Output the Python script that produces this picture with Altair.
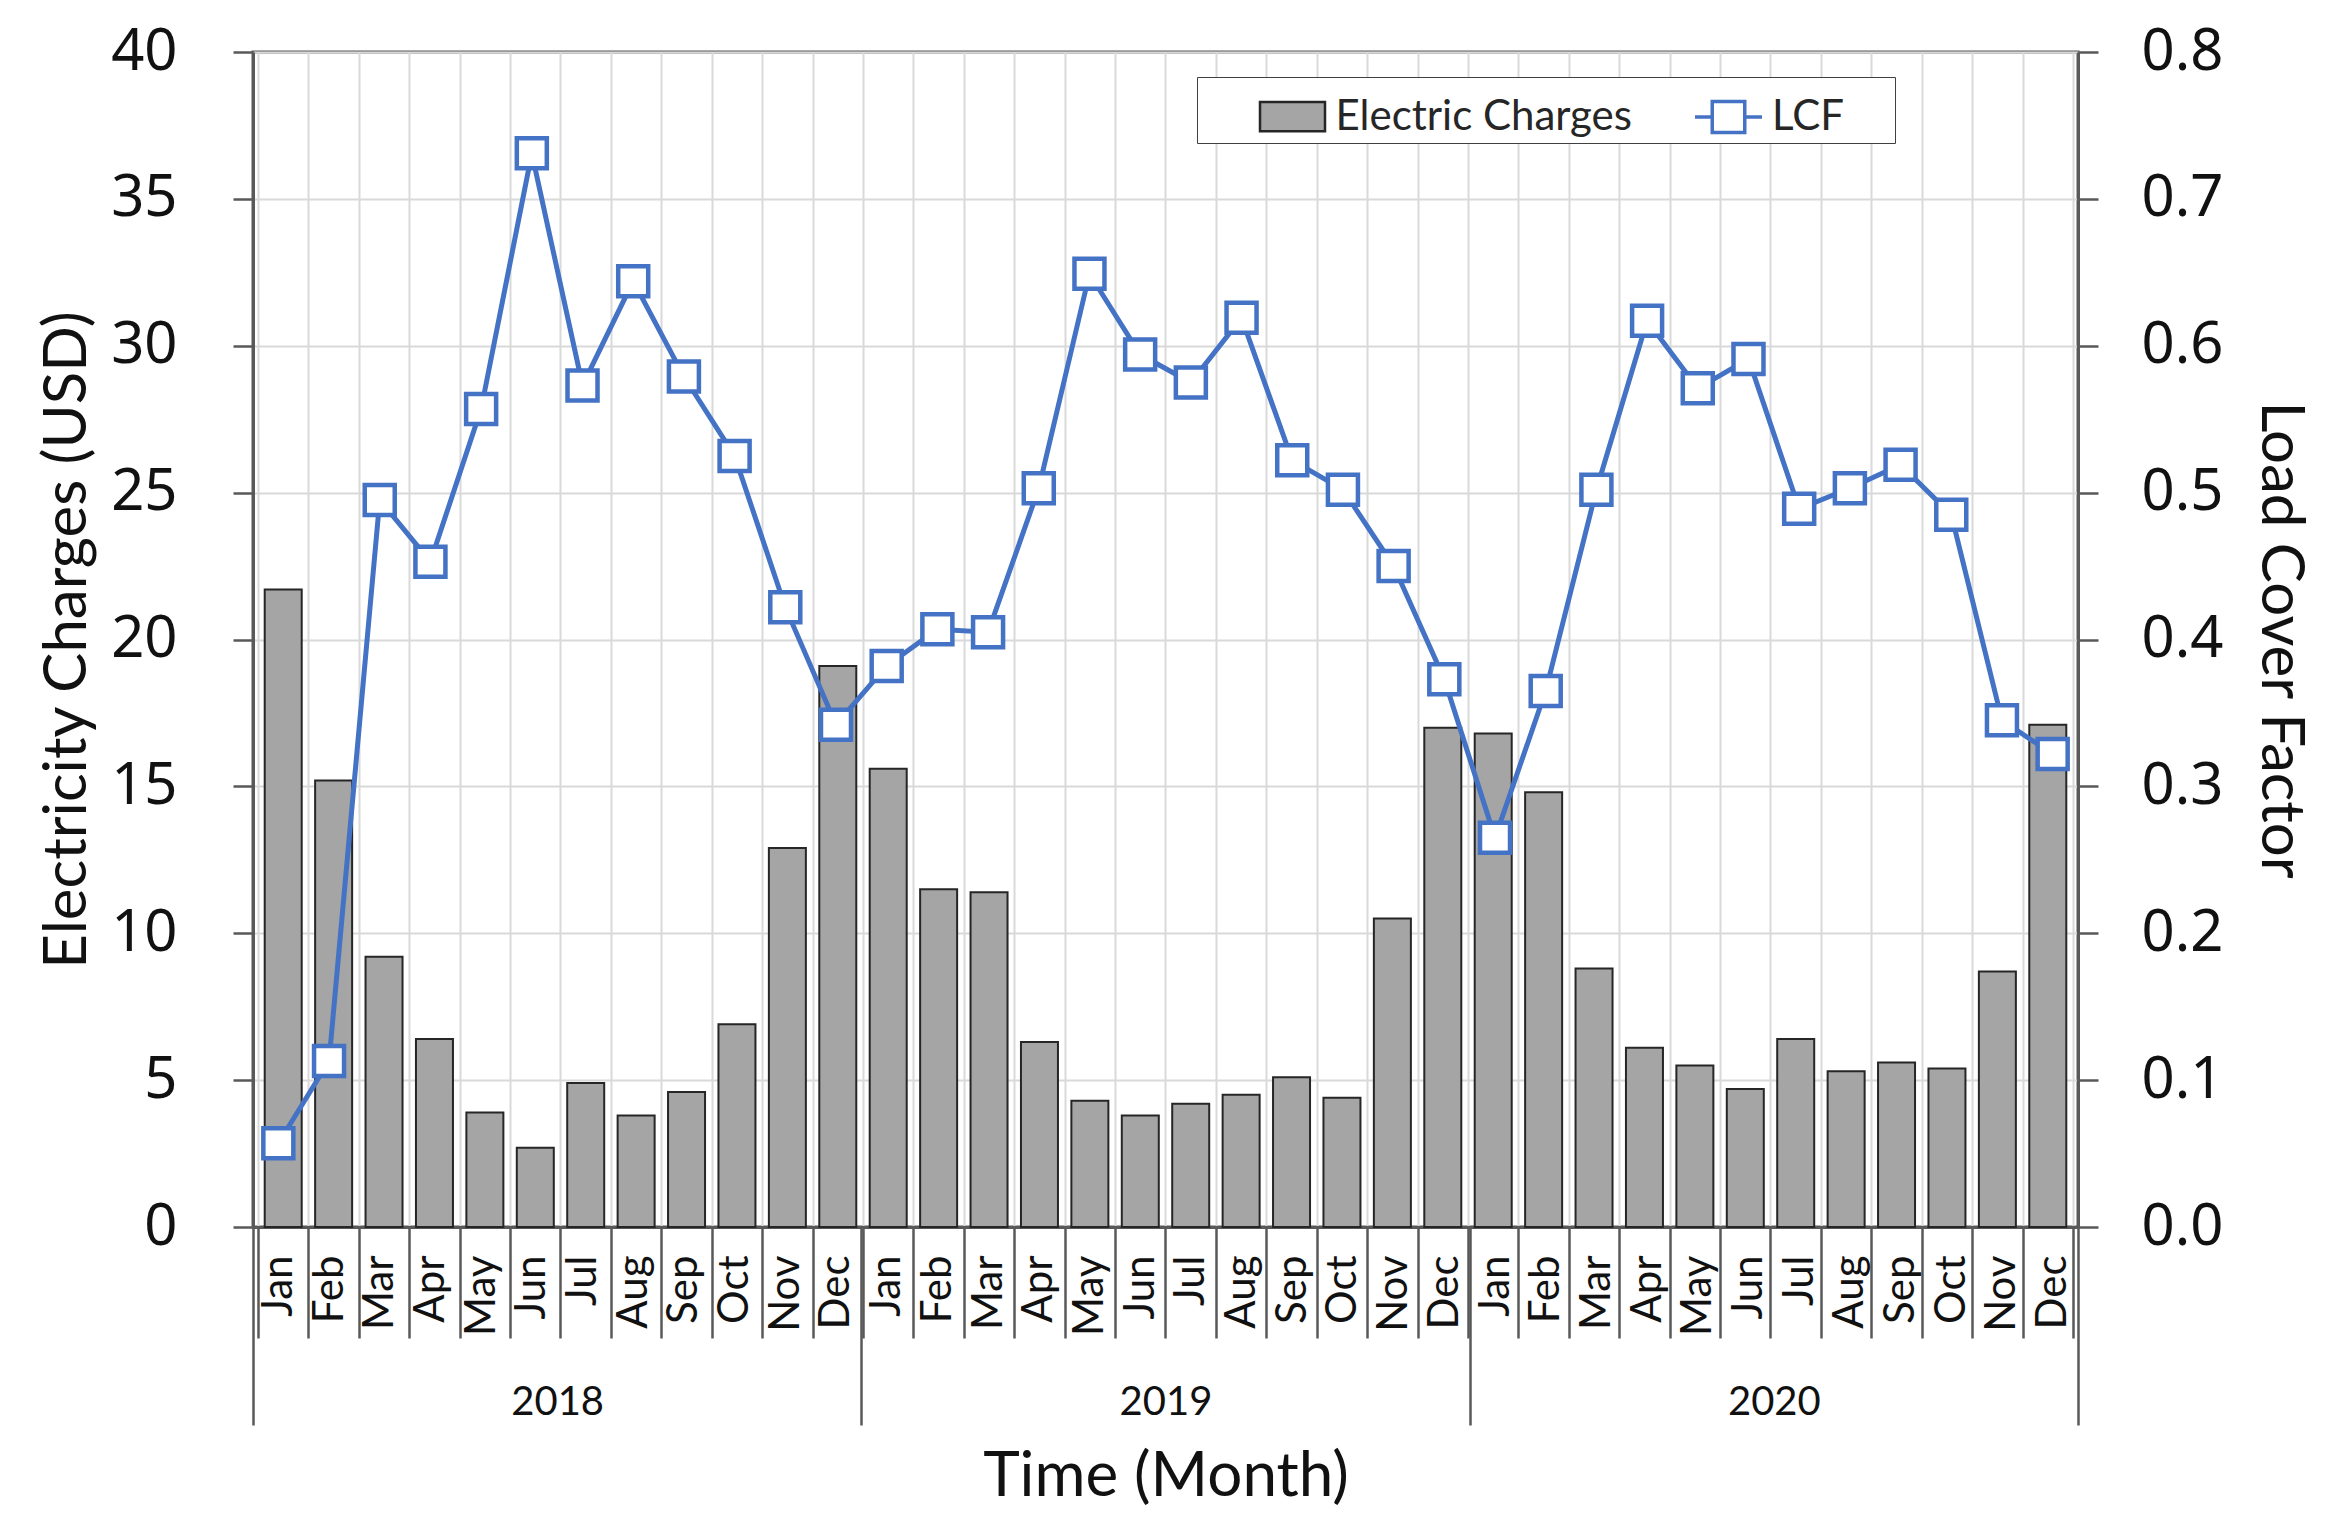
import altair as alt
import pandas as pd

months = ["Jan", "Feb", "Mar", "Apr", "May", "Jun", "Jul", "Aug", "Sep", "Oct", "Nov", "Dec"]
years = ["2018", "2019", "2020"]

charges_2018 = [21.7, 15.2, 9.2, 6.4, 3.9, 2.7, 4.9, 3.8, 4.6, 6.9, 12.9, 19.1]
charges_2019 = [15.6, 11.5, 11.4, 6.3, 4.3, 3.8, 4.2, 4.5, 5.1, 4.4, 10.5, 17.0]
charges_2020 = [16.8, 14.8, 8.8, 6.1, 5.5, 4.7, 6.4, 5.3, 5.6, 5.4, 8.7, 17.1]

lcf_2018 = [0.057, 0.113, 0.495, 0.453, 0.557, 0.731, 0.573, 0.644, 0.579, 0.525, 0.422, 0.342]
lcf_2019 = [0.382, 0.407, 0.405, 0.503, 0.649, 0.594, 0.575, 0.619, 0.522, 0.502, 0.450, 0.373]
lcf_2020 = [0.265, 0.365, 0.502, 0.617, 0.571, 0.591, 0.489, 0.503, 0.519, 0.485, 0.345, 0.322]

left_ticks = [0, 5, 10, 15, 20, 25, 30, 35, 40]
right_ticks = [0.0, 0.1, 0.2, 0.3, 0.4, 0.5, 0.6, 0.7, 0.8]
bar_series_name = "Electric Charges"
lcf_series_name = "LCF"

charges = charges_2018 + charges_2019 + charges_2020
lcf = lcf_2018 + lcf_2019 + lcf_2020
n = len(charges)
per_year = len(months)

df = pd.DataFrame({
    "idx": list(range(n)),
    "xc": [i + 0.5 for i in range(n)],
    "month": [months[i % per_year] for i in range(n)],
    "year": [years[i // per_year] for i in range(n)],
    "charges": charges,
    "lcf": lcf,
    "bar_series": [bar_series_name] * n,
    "lcf_series": [lcf_series_name] * n,
})

BAR_FILL = "#a5a5a5"
BAR_STROKE = "#262626"
BLUE = "#4472C4"
AXIS_DARK = "#595959"
GRID = "#d9d9d9"
TXT = "#111111"
TITLE_FONT = "Lato"
TICK_FONT = "Noto Sans"
NB = "\u00a0"
BLANK = "\u2800"

boundaries = list(range(n + 1))
centers = [i + 0.5 for i in range(n)]
year_bounds = list(range(0, n + 1, per_year))
year_centers = [per_year * k + per_year / 2 for k in range(len(years))]

month_list = "[" + ",".join("'" + m + "'" for m in months) + "]"
year_list = "[" + ",".join("'" + y + "'" for y in years) + "]"
month_expr = month_list + "[floor(datum.value) % " + str(per_year) + "]"
year_expr = year_list + "[floor(datum.value / " + str(per_year) + ")]"

xdom = alt.Scale(domain=[0, n], nice=False, zero=False)

rect_path = "M-1,-0.45H1V0.45H-1Z"
lcf_path = "M-1.03,0H-0.5M0.5,0H1.03M-0.5,-0.48H0.5V0.48H-0.5Z"

legend_bar = alt.Legend(
    orient="none", legendX=944, legendY=25, direction="horizontal",
    title=BLANK + NB * 2 + BLANK, titleOrient="left", titleFontSize=28, titleFont=TITLE_FONT,
    titlePadding=0,
    labelFont=TITLE_FONT, labelFontSize=42, labelColor="#262626", labelOffset=9,
    labelExpr="datum.label + '" + NB * 21 + BLANK + "'", labelLimit=2000,
    symbolType=rect_path, symbolSize=4225, symbolStrokeColor=BAR_STROKE,
    symbolStrokeWidth=2.5, symbolOpacity=1,
    padding=5.5, strokeColor="#404040", fillColor="white", zindex=1,
)

legend_lcf = alt.Legend(
    orient="none", legendX=1441, legendY=30.5, direction="horizontal", title=None,
    labelFont=TITLE_FONT, labelFontSize=42, labelColor="#262626", labelOffset=9,
    symbolType=lcf_path, symbolSize=4225, symbolFillColor="white",
    symbolStrokeWidth=3.5, symbolOpacity=1, padding=0, zindex=2,
)

base = alt.Chart(df)

bars = base.mark_bar(width=37, stroke=BAR_STROKE, strokeWidth=2).encode(
    x=alt.X("xc:Q", scale=xdom, axis=alt.Axis(
        orient="bottom", values=boundaries, labels=False, ticks=True, tickSize=111, tickWidth=2.5,
        tickColor=AXIS_DARK, domain=True, domainColor=AXIS_DARK, domainWidth=3,
        grid=True, gridColor=GRID, gridWidth=2, title=None)),
    y=alt.Y("charges:Q", scale=alt.Scale(domain=[0, 40], nice=False), axis=alt.Axis(
        orient="left", values=left_ticks, title="Electricity Charges (USD)", titleFont=TITLE_FONT,
        titleFontSize=60, titleFontWeight="normal", titleColor=TXT, titlePadding=12,
        labelFont=TICK_FONT, labelFontSize=58, labelColor=TXT, labelPadding=56,
        tickSize=20, tickWidth=2.5, tickColor=AXIS_DARK, domainColor=AXIS_DARK, domainWidth=3,
        grid=True, gridColor=GRID, gridWidth=2)),
    fill=alt.Fill("bar_series:N", scale=alt.Scale(domain=[bar_series_name], range=[BAR_FILL]),
                  legend=legend_bar),
)

line = base.mark_line(strokeWidth=5, color=BLUE).encode(
    x=alt.X("xc:Q", scale=xdom, axis=alt.Axis(
        orient="bottom", values=centers, labelExpr=month_expr, labelAngle=-90, labelFont=TITLE_FONT,
        labelFontSize=42, labelColor=TXT, labelPadding=28, ticks=False, tickSize=0,
        domain=False, grid=False, title=None)),
    y=alt.Y("lcf:Q", scale=alt.Scale(domain=[0, 0.8], nice=False), axis=alt.Axis(
        orient="right", values=right_ticks, format=".1f", title="Load Cover Factor",
        titleFont=TITLE_FONT, titleFontSize=60, titleFontWeight="normal", titleColor=TXT,
        titlePadding=26, titleAngle=90,
        labelFont=TICK_FONT, labelFontSize=58, labelColor=TXT, labelPadding=43,
        tickSize=20, tickWidth=2.5, tickColor=AXIS_DARK, domainColor=AXIS_DARK, domainWidth=3,
        grid=False)),
)

markers = base.mark_point(shape="square", size=900, filled=True, fill="white",
                          strokeWidth=4.5, opacity=1).encode(
    x=alt.X("xc:Q", scale=xdom, axis=alt.Axis(
        orient="bottom", values=year_bounds, labels=False, ticks=True, tickSize=198, tickWidth=2.5,
        tickColor=AXIS_DARK, domain=False, grid=False, title=None)),
    y=alt.Y("lcf:Q", scale=alt.Scale(domain=[0, 0.8], nice=False), axis=None),
    stroke=alt.Stroke("lcf_series:N", scale=alt.Scale(domain=[lcf_series_name], range=[BLUE]),
                      legend=legend_lcf),
)

year_layer = base.mark_point(opacity=0).encode(
    x=alt.X("xc:Q", scale=xdom, axis=alt.Axis(
        orient="bottom", values=year_centers, labelExpr=year_expr, labelFont=TITLE_FONT,
        labelFontSize=40, labelColor=TXT, labelPadding=155, ticks=False, tickSize=0,
        domain=False, grid=False,
        title="Time (Month)", titleFont=TITLE_FONT, titleFontSize=62, titleFontWeight="normal",
        titleColor=TXT, titlePadding=24)),
    y=alt.Y("lcf:Q", scale=alt.Scale(domain=[0, 0.8], nice=False), axis=None),
)

chart = alt.layer(bars, line, markers, year_layer).resolve_scale(
    x="independent", y="independent"
).properties(
    width=1825, height=1175, autosize="none",
    padding={"left": 245, "top": 44, "right": 245, "bottom": 298},
    background="white",
).configure_view(stroke=AXIS_DARK, strokeWidth=3)

chart.save("out.html", embed_options={"renderer": "svg", "actions": False})
